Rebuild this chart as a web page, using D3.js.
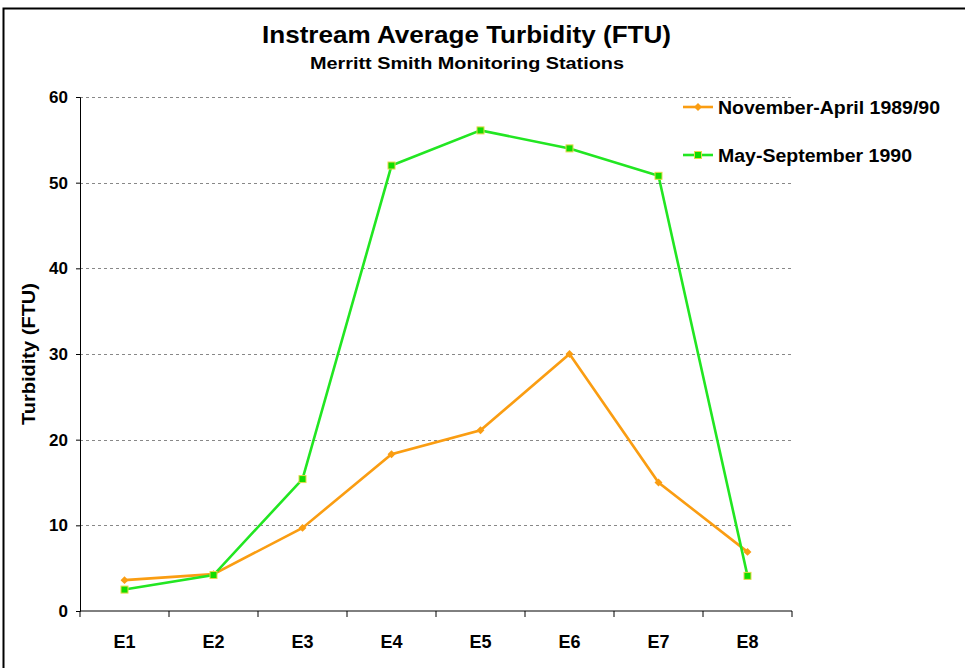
<!DOCTYPE html>
<html>
<head>
  <meta charset="utf-8">
  <script src="https://d3js.org/d3.v7.min.js"></script>
  <style>
    body { margin:0; background:#fff; }
    text { font-family: "Liberation Sans", Arial, sans-serif; font-weight: bold; fill: #000; }
  </style>
</head>
<body>
<script>
  // chart data
  const stations = ["E1", "E2", "E3", "E4", "E5", "E6", "E7", "E8"];
  const novApr = [3.6, 4.3, 9.7, 18.3, 21.1, 30.0, 15.0, 6.9];
  const maySep = [2.5, 4.2, 15.4, 52.0, 56.1, 54.0, 50.8, 4.1];
  const yTicks = [0, 10, 20, 30, 40, 50, 60];
  const seriesNames = ["November-April 1989/90", "May-September 1990"];

  const width = 965, height = 668;
  const margin = { top: 97, right: 173, bottom: 57, left: 80 };
  const innerW = width - margin.left - margin.right;
  const innerH = height - margin.top - margin.bottom;

  const svg = d3.select("body").append("svg")
    .attr("width", width)
    .attr("height", height);

  // outer frame (only left/top edges visible)
  svg.append("rect")
    .attr("x", 3.5).attr("y", 8.5)
    .attr("width", width + 20).attr("height", height + 20)
    .attr("fill", "none").attr("stroke", "#000").attr("stroke-width", 2);

  svg.append("text")
    .attr("x", 262).attr("y", 43)
    .attr("textLength", 409).attr("lengthAdjust", "spacingAndGlyphs")
    .style("font-size", "24px")
    .text("Instream Average Turbidity (FTU)");

  svg.append("text")
    .attr("x", 310).attr("y", 69)
    .attr("textLength", 314).attr("lengthAdjust", "spacingAndGlyphs")
    .style("font-size", "17px")
    .text("Merritt Smith Monitoring Stations");

  const g = svg.append("g")
    .attr("transform", `translate(${margin.left},${margin.top})`);

  const x = d3.scaleBand().domain(stations).range([0, innerW]);
  const y = d3.scaleLinear().domain([0, 60]).range([innerH, 0]);

  // gridlines
  g.append("g").selectAll("line")
    .data(yTicks.filter(d => d > 0))
    .join("line")
    .attr("x1", 0).attr("x2", innerW)
    .attr("y1", d => Math.round(y(d)) + 0.5).attr("y2", d => Math.round(y(d)) + 0.5)
    .attr("stroke", "#888").attr("stroke-dasharray", "3,3");

  // y axis
  const yAxis = g.append("g")
    .call(d3.axisLeft(y).tickValues(yTicks).tickSize(4).tickPadding(8));
  yAxis.selectAll("text").style("font-size", "17px");
  yAxis.select(".domain").attr("stroke", "#000");

  // x axis, ticks on band boundaries
  const xAxisG = g.append("g").attr("transform", `translate(0,${innerH})`);
  xAxisG.append("line")
    .attr("x1", 0).attr("x2", innerW)
    .attr("stroke", "#000");
  xAxisG.selectAll(".tk")
    .data(stations.concat(["end"]))
    .join("line")
    .attr("class", "tk")
    .attr("x1", (d, i) => i < stations.length ? x(d) : innerW)
    .attr("x2", (d, i) => i < stations.length ? x(d) : innerW)
    .attr("y1", 0).attr("y2", 6)
    .attr("stroke", "#000");
  xAxisG.selectAll(".lbl")
    .data(stations)
    .join("text")
    .attr("class", "lbl")
    .attr("x", d => x(d) + x.bandwidth() / 2)
    .attr("y", 37)
    .attr("text-anchor", "middle")
    .style("font-size", "18px")
    .text(d => d);

  svg.append("text")
    .attr("transform", "translate(35,425) rotate(-90)")
    .attr("textLength", 142).attr("lengthAdjust", "spacingAndGlyphs")
    .style("font-size", "18px")
    .text("Turbidity (FTU)");

  const cx = d => x(d) + x.bandwidth() / 2;
  const line = d3.line().x(d => cx(d.s)).y(d => y(d.v));

  const series = [
    { name: seriesNames[0], values: novApr, color: "#FA9D12", marker: "diamond", len: 222 },
    { name: seriesNames[1], values: maySep, color: "#22E622", marker: "square", len: 194 }
  ];

  function drawMarker(sel, s) {
    if (s.marker === "diamond") {
      sel.append("path")
        .attr("d", d3.symbol(d3.symbolDiamond2, 40)())
        .attr("fill", s.color);
    } else {
      sel.append("rect")
        .attr("x", -3.5).attr("y", -3.5).attr("width", 7).attr("height", 7)
        .attr("fill", "#11dd00").attr("stroke", "#e6d84a").attr("stroke-width", 1);
    }
  }

  series.forEach(s => {
    const pts = s.values.map((v, i) => ({ s: stations[i], v: v }));
    g.append("path")
      .datum(pts)
      .attr("fill", "none")
      .attr("stroke", s.color)
      .attr("stroke-width", 2.6)
      .attr("d", line);
    g.selectAll(null)
      .data(pts)
      .join("g")
      .attr("transform", d => `translate(${cx(d.s)},${y(d.v)})`)
      .each(function() { drawMarker(d3.select(this), s); });
  });

  // legend
  const legend = svg.append("g").attr("transform", "translate(683,107)");
  series.forEach((s, i) => {
    const row = legend.append("g").attr("transform", `translate(0,${i * 48})`);
    row.append("line")
      .attr("x1", 0).attr("x2", 30)
      .attr("stroke", s.color).attr("stroke-width", 2.6);
    const m = row.append("g").attr("transform", "translate(15,0)");
    drawMarker(m, s);
    row.append("text")
      .attr("x", 35).attr("y", 6.5)
      .attr("textLength", s.len).attr("lengthAdjust", "spacingAndGlyphs")
      .style("font-size", "18px")
      .text(s.name);
  });
</script>
</body>
</html>
